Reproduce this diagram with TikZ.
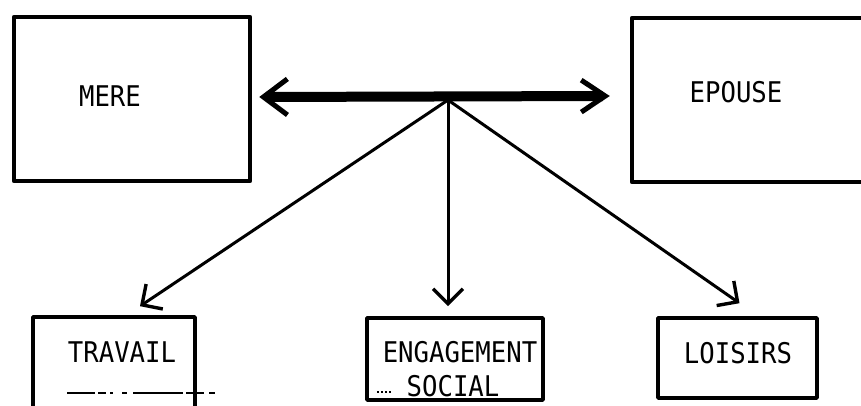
\documentclass[tikz,border=0pt]{standalone}
\usepackage{fontspec}
\newfontfamily\tw[FakeStretch=0.9]{DejaVu Sans Mono}
\usetikzlibrary{arrows.meta,calc}
\begin{document}
\begin{tikzpicture}[x=1pt,y=-1pt,
  bigbox/.style={draw, line width=4.5pt, inner sep=0pt, line join=round},
  smallbox/.style={draw, line width=3.6pt, inner sep=0pt, line join=round},
  lbl/.style={font=\tw\fontsize{28.5}{31}\selectfont, inner sep=0pt, anchor=base},
  bigarrow/.style={line width=10pt, {Straight Barb[length=24pt,width=36pt,line width=5pt]}-{Straight Barb[length=24pt,width=32pt,line width=5pt]}},
  thinarrow/.style={line width=3pt, -{Straight Barb[length=15pt,width=30pt,line width=3.4pt]}},
  scanline/.style={line width=1.2pt}
]
\useasboundingbox (0,0) rectangle (861,406);
\fill[white] (0,0) rectangle (861,406);
\clip (0,0) rectangle (861,406);

% boxes
\node[bigbox, minimum width=236pt, minimum height=164pt] (mere) at (132,99) {};
\node[bigbox, minimum width=248pt, minimum height=164pt] (epouse) at (756,100) {};
\node[smallbox, minimum width=162pt, minimum height=98pt] (travail) at (114,366) {};
\node[smallbox, minimum width=176pt, minimum height=82pt] (engagement) at (455,359) {};
\node[smallbox, minimum width=159pt, minimum height=80pt] (loisirs) at (737.5,358) {};

% labels
\node[lbl] (tmere) at (110,107) {MERE};
\node[lbl] (tepouse) at (736,103) {EPOUSE};
\node[lbl] (ttravail) at (122,362) {TRAVAIL};
\node[lbl] (teng1) at (460,362) {ENGAGEMENT};
\node[lbl] (teng2) at (453,396) {SOCIAL};
\node[lbl] (tloisirs) at (738,363) {LOISIRS};

% connectors
\coordinate (L) at ($(mere.east)+(7,-2)$);
\coordinate (R) at ($(epouse.west)+(-20,-4)$);
\coordinate (hub) at (448,100);
\coordinate (tT) at ($(travail.north)+(26,-9)$);
\coordinate (tE) at ($(engagement.north)+(-7,-10)$);
\coordinate (tL) at ($(loisirs.north)+(2,-13)$);

\draw[bigarrow] (L) -- (R);
\draw[thinarrow] (hub) -- (tT);
\draw[thinarrow] (hub) -- (tE);
\draw[thinarrow] (hub) -- (tL);

% faint scan marks
\draw[scanline, dash pattern=on 28pt off 3pt on 8pt off 4pt on 3pt off 9pt on 5pt off 6pt on 50pt off 3pt on 18pt off 5pt on 6pt] (67,393) -- (227,393);
\draw[scanline, dash pattern=on 2pt off 2pt] (377,392) -- (392,392);
\end{tikzpicture}
\end{document}
